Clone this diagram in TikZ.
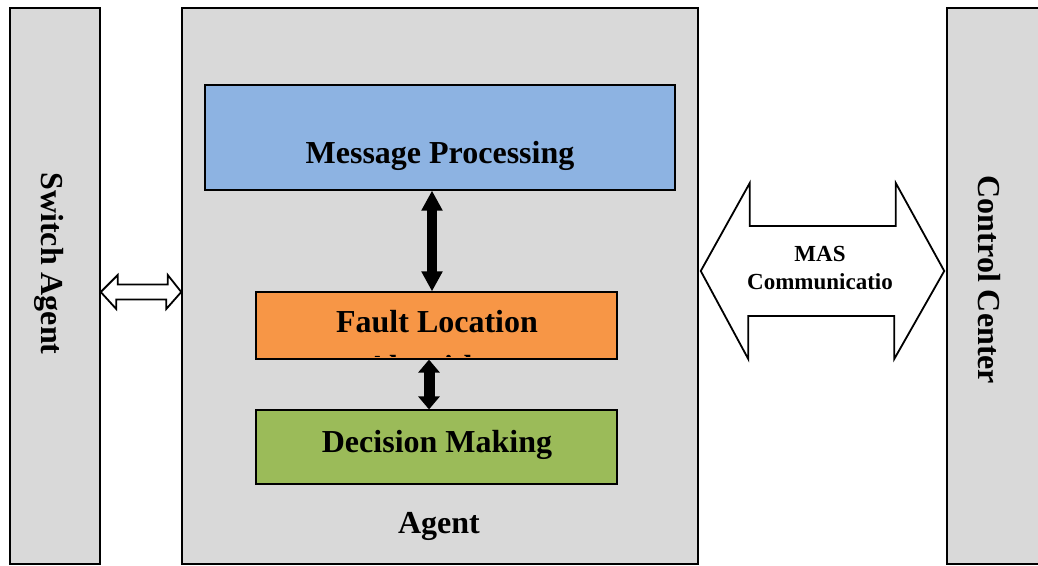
\documentclass[tikz,border=0pt]{standalone}
\usepackage{fontspec}
\setmainfont{Liberation Serif}
\usetikzlibrary{arrows.meta,calc}
\definecolor{pgray}{RGB}{217,217,217}
\definecolor{mpblue}{RGB}{141,179,226}
\definecolor{florange}{RGB}{247,150,70}
\definecolor{dmgreen}{RGB}{155,187,89}
\begin{document}
\begin{tikzpicture}[x=1pt,y=-1pt,
  panel/.style={draw=black,line width=1.5pt,fill=pgray,inner sep=0pt},
  inbox/.style={draw=black,line width=1.2pt,inner sep=0pt},
  lbl/.style={font=\fontsize{32}{38}\selectfont\bfseries,inner sep=0pt},
  hollow/.style={draw=black,line width=1.8pt,fill=white,line join=miter},
  bar/.style={line width=10pt,{Triangle[length=20pt,width=20pt]}-{Triangle[length=20pt,width=20pt]}},
  barshort/.style={line width=11pt,{Triangle[length=13pt,width=21pt]}-{Triangle[length=13pt,width=21pt]}}]
\useasboundingbox (0,0) rectangle (1038,565);
% panels
\node[panel,minimum width=90pt,minimum height=556pt] (sw) at (55,286) {};
\node[panel,minimum width=516pt,minimum height=556pt] (ag) at (440,286) {};
\node[panel,minimum width=100pt,minimum height=556pt] (cc) at (997,286) {};
% inner boxes
\node[inbox,fill=mpblue,minimum width=470pt,minimum height=105pt] (mp) at (440,137.5) {};
\node[inbox,fill=florange,minimum width=361pt,minimum height=67pt] (fl) at (436.5,325.5) {};
\node[inbox,fill=dmgreen,minimum width=361pt,minimum height=74pt] (dm) at (436.5,447) {};
% labels
\node[lbl,anchor=base] (mpt) at (440,163) {Message Processing};
\node[lbl,anchor=base] (flt) at (437,332) {Fault Location};
\begin{scope}
  \clip ($(fl.north west)+(1,1)$) rectangle ($(fl.south east)+(-1,-3)$);
  \node[lbl,anchor=base] (fla) at (437,377) {Algorithm};
\end{scope}
\node[lbl,anchor=base] (dmt) at (437,452) {Decision Making};
\node[lbl,anchor=base] (agt) at (439,533) {Agent};
\node[lbl,rotate=-90,anchor=base] (swt) at (41.5,263.5) {Switch Agent};
\node[lbl,rotate=-90,anchor=base] (cct) at (978,280) {Control Center};
% black arrows
\draw[bar] ($(mp.south)+(-8,0)$) -- ($(fl.north)+(-4.5,0)$);
\draw[barshort] ($(fl.south)+(-7.5,0)$) -- ($(dm.north)+(-7.5,0)$);
% hollow arrows
\draw[hollow] ($(sw.east)+(0,6)$) -- ++(17,-17) -- ++(0,9.5) -- ++(50,0) -- ++(0,-9.5)
  -- ($(ag.west)+(0,6)$) -- ++(-15,17) -- ++(0,-9.5) -- ++(-50,0) -- ++(0,9.5) -- cycle;
\draw[hollow] ($(ag.east)+(2,-15)$) -- ++(49,-88) -- ++(0,43) -- ++(146,0) -- ++(0,-43)
  -- ($(cc.west)+(-2,-15)$) -- ++(-50,88) -- ++(0,-43) -- ++(-146,0) -- ++(0,43) -- cycle;
\node[font=\fontsize{23}{28}\selectfont\bfseries,align=center,inner sep=0pt] (mas) at (820,268) {MAS\\Communicatio};
\end{tikzpicture}
\end{document}
